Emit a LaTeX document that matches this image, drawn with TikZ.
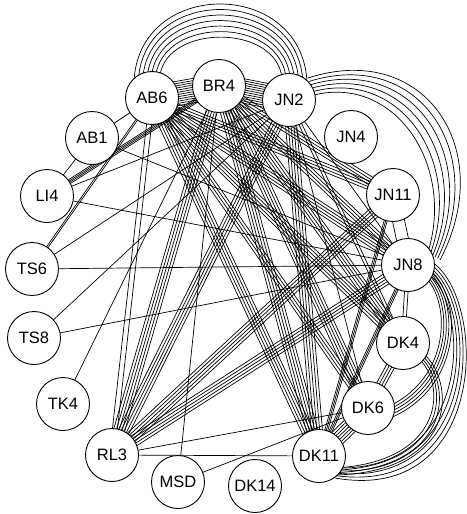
\documentclass[tikz,border=0pt]{standalone}
\usepackage{fontspec}
\setmainfont{Liberation Sans}
\usetikzlibrary{calc}
\pgfdeclarelayer{background}
\pgfsetlayers{background,main}
\newcommand\bnd[4]{%
  \foreach \i in {1,...,#3}{%
    \pgfmathsetmacro\oo{(\i-(#3+1)/2)*#4}%
    \draw ($(#1)!\oo pt!90:(#2)$) -- ($(#2)!\oo pt!-90:(#1)$);}}
\newcommand\arcb[9]{%
  \foreach \k in {1,...,#1}{%
    \pgfmathsetmacro\myt{(\k-1)/(#1-1)}%
    \draw ($#2!\myt!#6$) .. controls ($#3!\myt!#7$) and ($#4!\myt!#8$) .. ($#5!\myt!#9$);}}
\begin{document}
\begin{tikzpicture}[x=1pt,y=-1pt,
  nd/.style={circle,draw,fill=white,minimum size=53pt,inner sep=0pt,line width=0.9pt,
    font=\fontsize{16.5}{17}\selectfont},
  every path/.style={line width=0.7pt}]
\useasboundingbox (0,0) rectangle (466,514);
\node[nd] (AB6) at (152,98) {AB6};
\node[nd] (BR4) at (219,86) {BR4};
\node[nd] (JN2) at (289,100) {JN2};
\node[nd] (AB1) at (92,138) {AB1};
\node[nd] (JN4) at (351,137) {JN4};
\node[nd] (LI4) at (47,196) {LI4};
\node[nd] (JN11) at (393,195) {JN11};
\node[nd] (TS6) at (32,269) {TS6};
\node[nd] (JN8) at (408,265) {JN8};
\node[nd] (TS8) at (34,338) {TS8};
\node[nd] (DK4) at (403,343) {DK4};
\node[nd] (TK4) at (63,404) {TK4};
\node[nd] (DK6) at (368,408) {DK6};
\node[nd] (RL3) at (112,455) {RL3};
\node[nd] (DK11) at (319,456) {DK11};
\node[nd] (MSD) at (178,482) {MSD};
\node[nd] (DK14) at (255,486) {DK14};
\begin{pgfonlayer}{background}
% arcs
\arcb{7}{(134,82)}{(138,-22)}{(302,-22)}{(307,82)}{(160,75)}{(168,24)}{(276,24)}{(282,78)}
\arcb{6}{(308,78)}{(425,40)}{(498,150)}{(440,260)}{(314,95)}{(395,75)}{(455,165)}{(428,252)}
\arcb{5}{(432,262)}{(488,300)}{(488,505)}{(335,478)}{(430,275)}{(470,310)}{(472,472)}{(335,468)}
\arcb{5}{(430,270)}{(465,300)}{(462,392)}{(385,420)}{(428,280)}{(452,310)}{(447,382)}{(385,408)}
\arcb{4}{(425,355)}{(456,385)}{(456,472)}{(335,475)}{(422,362)}{(446,390)}{(441,462)}{(335,468)}
% short bundles
\bnd{AB6}{BR4}{12}{2.2}
\bnd{BR4}{JN2}{12}{2.2}
\bnd{JN11}{JN8}{2}{12}
\bnd{JN8}{DK4}{2}{3.5}
\bnd{DK4}{DK6}{4}{2.8}
\bnd{DK6}{DK11}{7}{2.6}
\bnd{AB6}{AB1}{1}{1}
\bnd{AB1}{LI4}{1}{1}
% long bundles
\bnd{AB6}{TS6}{2}{1.6}
\bnd{AB6}{RL3}{2}{5}
\bnd{BR4}{TK4}{1}{1}
\bnd{BR4}{LI4}{4}{1.4}
\bnd{BR4}{MSD}{1}{1}
\bnd{AB1}{JN8}{1}{1}
\bnd{LI4}{JN8}{1}{1}
\bnd{LI4}{JN2}{1}{1}
\bnd{TS6}{JN8}{1}{1}
\bnd{TS6}{JN2}{1}{1}
\bnd{TS8}{JN8}{1}{1}
\bnd{TS8}{JN2}{1}{1}
\bnd{AB6}{JN11}{4}{2.8}
\bnd{AB6}{JN8}{5}{2.8}
\bnd{AB6}{DK4}{5}{2.8}
\bnd{AB6}{DK6}{4}{2.8}
\bnd{AB6}{DK11}{5}{2.8}
\bnd{BR4}{JN11}{4}{2.8}
\bnd{BR4}{JN8}{4}{2.8}
\bnd{BR4}{DK4}{5}{2.8}
\bnd{BR4}{DK6}{5}{2.8}
\bnd{BR4}{DK11}{5}{2.8}
\bnd{BR4}{RL3}{5}{2.8}
\bnd{JN2}{DK11}{5}{2.8}
\bnd{JN2}{DK6}{1}{1}
\bnd{JN2}{DK4}{2}{3}
\bnd{JN2}{JN8}{1}{1}
\bnd{JN2}{RL3}{5}{2.8}
\bnd{JN11}{RL3}{5}{2.8}
\bnd{JN8}{RL3}{5}{2.8}
\bnd{JN11}{DK11}{3}{1.5}
\bnd{JN8}{DK11}{3}{1.5}
\bnd{DK6}{RL3}{1}{1}
\bnd{DK6}{MSD}{1}{1}
\bnd{DK11}{RL3}{1}{1}
\end{pgfonlayer}
\end{tikzpicture}
\end{document}
